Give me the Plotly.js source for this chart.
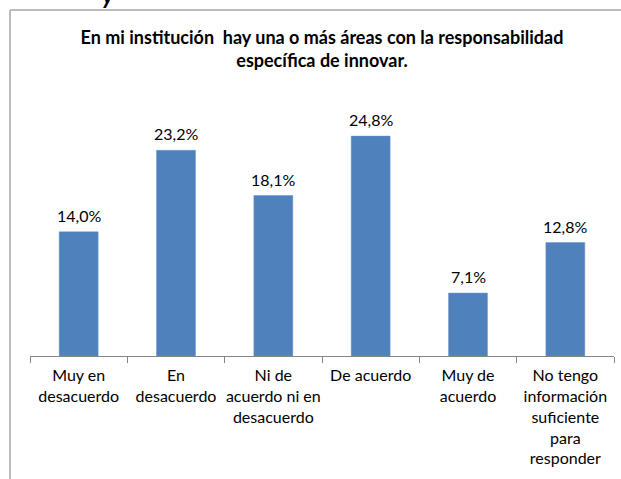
<!DOCTYPE html>
<html>
<head>
<meta charset="utf-8">
<script src="https://cdn.plot.ly/plotly-3.0.1.min.js"></script>
<style>html,body{margin:0;padding:0;background:#fff;}#chart{width:621px;height:479px;}</style>
</head>
<body>
<div id="chart"></div>
<script>
const categories = [
  "Muy en<br>desacuerdo",
  "En<br>desacuerdo",
  "Ni de<br>acuerdo ni en<br>desacuerdo",
  "De acuerdo",
  "Muy de<br>acuerdo",
  "No tengo<br>información<br>suficiente<br>para<br>responder"
];
const values = [14.0, 23.2, 18.1, 24.8, 7.1, 12.8];
const valueLabels = ["14,0%", "23,2%", "18,1%", "24,8%", "7,1%", "12,8%"];
const titleText = "En mi institución  hay una o más áreas con la responsabilidad<br>específica de innovar.";

const FONT = "Lato, 'Open Sans', sans-serif";

const trace = {
  type: "bar",
  x: categories,
  y: values,
  marker: {color: "#4F81BD", line: {color: "#6A95C8", width: 0.5}},
  hoverinfo: "none"
};

const annotations = categories.map((c, i) => ({
  x: c, y: values[i], xref: "x", yref: "y",
  text: valueLabels[i], showarrow: false,
  yanchor: "bottom", yshift: 5,
  font: {family: FONT, size: 16, color: "#000"}
}));
annotations.push({
  xref: "paper", yref: "paper", x: 0.134, y: 1.36, yanchor: "middle", xanchor: "center",
  text: "<b><i>y</i></b>", showarrow: false,
  font: {family: FONT, size: 24, color: "#000"}
});

const layout = {
  width: 621, height: 479,
  margin: {l: 30, r: 7, t: 90, b: 123},
  paper_bgcolor: "#fff", plot_bgcolor: "#fff",
  showlegend: false,
  bargap: 0.6,
  title: {
    text: titleText,
    x: 0.5185, xanchor: "center", xref: "container",
    y: 0.908, yanchor: "middle", yref: "container",
    font: {family: FONT, size: 18, color: "#000", weight: "bold"}
  },
  xaxis: {
    type: "category",
    showline: true, linecolor: "#868686", linewidth: 1,
    ticks: "outside", ticklen: 6, tickcolor: "#868686",
    tickson: "boundaries",
    tickangle: 0,
    ticklabelstandoff: 5,
    tickfont: {family: FONT, size: 16, color: "#000"},
    showgrid: false, zeroline: false, fixedrange: true
  },
  yaxis: {
    range: [0, 30], visible: false, showgrid: false, zeroline: false, fixedrange: true
  },
  annotations: annotations,
  shapes: [
    {type: "line", xref: "paper", yref: "paper", x0: -0.0342, x1: 1.02, y0: 1.301, y1: 1.301,
     line: {color: "#A6A6A6", width: 1.5}},
    {type: "line", xref: "paper", yref: "paper", x0: -0.0342, x1: -0.0342, y0: 1.301, y1: -0.6,
     line: {color: "#A6A6A6", width: 1.5}}
  ]
};

Plotly.newPlot("chart", [trace], layout, {displayModeBar: false, staticPlot: true});
</script>
</body>
</html>
